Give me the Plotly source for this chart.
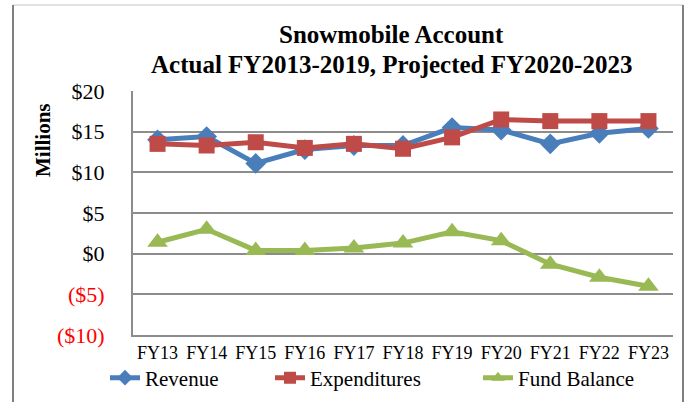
import plotly.graph_objects as go

years = ["FY13", "FY14", "FY15", "FY16", "FY17", "FY18", "FY19", "FY20", "FY21", "FY22", "FY23"]
revenue = [14.0, 14.4, 11.1, 12.8, 13.3, 13.3, 15.5, 15.2, 13.5, 14.8, 15.4]
expenditures = [13.5, 13.3, 13.7, 13.0, 13.5, 12.9, 14.3, 16.5, 16.3, 16.3, 16.3]
fund_balance = [1.4, 3.0, 0.4, 0.4, 0.7, 1.3, 2.7, 1.6, -1.3, -2.9, -4.0]
ytick_vals = [-10, -5, 0, 5, 10, 15, 20]
ytick_text = ["<span style='color:#ff0000'>($10)</span>", "<span style='color:#ff0000'>($5)</span>",
              "$0", "$5", "$10", "$15", "$20"]

W, H = 686, 402
L, R, T, B = 133, 673, 91, 335
pw, ph = R - L, B - T

def px(x):
    return (x - L) / pw

def py(y):
    return (B - y) / ph

FONT = "Liberation Serif"

fig = go.Figure()
fig.add_trace(go.Scatter(x=years, y=revenue, name="Revenue", mode="lines+markers",
                         line=dict(color="#4a7ebb", width=5),
                         marker=dict(symbol="diamond", size=16, color="#4a7ebb"),
                         legend="legend"))
fig.add_trace(go.Scatter(x=years, y=expenditures, name="Expenditures", mode="lines+markers",
                         line=dict(color="#be4b48", width=5),
                         marker=dict(symbol="square", size=16, color="#be4b48"),
                         legend="legend2"))
fig.add_trace(go.Scatter(x=years, y=fund_balance, name="Fund Balance", mode="lines+markers",
                         line=dict(color="#98b954", width=5),
                         marker=dict(symbol="triangle-up", size=18, color="#98b954"),
                         legend="legend3"))

def leg(xpix):
    return dict(orientation="h", yanchor="middle", xanchor="left",
                xref="container", yref="container",
                x=xpix / W, y=1 - 378 / H, itemsizing="constant",
                font=dict(family=FONT, size=21, color="#000000"),
                bgcolor="rgba(0,0,0,0)", borderwidth=0, visible=True)

fig.update_layout(
    width=W, height=H,
    showlegend=True,
    margin=dict(l=L, r=W - R, t=T, b=H - B, autoexpand=False),
    paper_bgcolor="white", plot_bgcolor="white",
    font=dict(family=FONT, color="#000000"),
    xaxis=dict(range=[-0.5, 10.5], showgrid=False, showline=True, linecolor="#8c8c8c",
               linewidth=2, tickfont=dict(size=18), ticks="", zeroline=False, automargin=False),
    yaxis=dict(range=[-10, 20], tickvals=ytick_vals, ticktext=ytick_text,
               showgrid=True, gridcolor="#8c8c8c", gridwidth=1.5,
               showline=True, linecolor="#8c8c8c", linewidth=2, automargin=False,
               zeroline=False, tickfont=dict(size=22), ticks="", ticklabelstandoff=22),
    legend=leg(105),
    legend2=leg(270),
    legend3=leg(478),
    annotations=[
        dict(text="<b>Snowmobile Account</b>", xref="paper", yref="paper",
             x=px(391), y=py(35), showarrow=False, xanchor="center", yanchor="middle",
             font=dict(family=FONT, size=25, color="#000000")),
        dict(text="<b>Actual FY2013-2019, Projected FY2020-2023</b>", xref="paper", yref="paper",
             x=px(391), y=py(64), showarrow=False, xanchor="center", yanchor="middle",
             font=dict(family=FONT, size=25, color="#000000")),
        dict(text="<b>Millions</b>", xref="paper", yref="paper", textangle=-90,
             x=px(43), y=py(140), showarrow=False, xanchor="center", yanchor="middle",
             font=dict(family=FONT, size=21, color="#000000")),
    ],
    shapes=[
        dict(type="line", xref="paper", yref="paper", x0=px(13), x1=px(683), y0=py(5), y1=py(5),
             line=dict(color="#d9d9d9", width=1.5)),
        dict(type="line", xref="paper", yref="paper", x0=px(13), x1=px(13), y0=py(5), y1=py(410),
             line=dict(color="#808080", width=2)),
        dict(type="line", xref="paper", yref="paper", x0=px(683), x1=px(683), y0=py(5), y1=py(410),
             line=dict(color="#808080", width=2)),
    ],
)

fig.write_html("out.html", config={"displayModeBar": False},
               post_script="document.body.style.margin='0';document.body.style.overflow='hidden';")
